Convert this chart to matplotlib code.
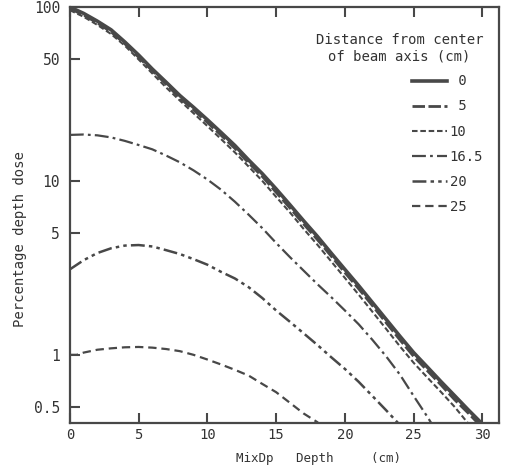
import matplotlib
matplotlib.use("Agg")
import matplotlib.pyplot as plt

# depth (cm) and percentage depth dose
depth_main = [0, 1, 2, 3, 4, 5, 6, 7, 8, 9, 10, 11, 12, 13, 14, 15, 16, 17, 18,
              19, 20, 21, 22, 23, 24, 25, 26, 27, 28, 29, 30]
pdd_0 = [100, 92, 83, 74, 63, 53, 44, 37, 31, 26.5, 22.5, 19, 16, 13.2, 11, 9.0,
         7.3, 5.9, 4.8, 3.85, 3.1, 2.5, 2.0, 1.6, 1.28, 1.03, 0.85, 0.7, 0.58,
         0.48, 0.40]
pdd_5 = [98, 90, 81, 72, 61.5, 51.5, 43, 36, 30, 25.6, 21.7, 18.3, 15.4, 12.7,
         10.6, 8.6, 7.0, 5.65, 4.6, 3.7, 2.97, 2.4, 1.92, 1.53, 1.22, 0.98, 0.81,
         0.67, 0.55, 0.46, 0.38]
pdd_10 = [96, 88, 79, 70, 60, 50, 41.5, 34.5, 29, 24.5, 20.7, 17.4, 14.6, 12.1,
          10, 8.1, 6.6, 5.3, 4.3, 3.45, 2.77, 2.22, 1.77, 1.41, 1.12, 0.9, 0.74,
          0.61, 0.5, 0.40, 0.33]

depth_165 = [0, 1, 2, 3, 4, 5, 6, 7, 8, 9, 10, 11, 12, 13, 14, 15, 16, 17, 18,
             19, 20, 21, 22, 23, 24, 25, 26, 26.5]
pdd_165 = [18.4, 18.5, 18.3, 17.8, 17.0, 16.1, 15.2, 14.0, 12.8, 11.5, 10.2, 8.9,
           7.6, 6.4, 5.35, 4.4, 3.65, 3.05, 2.55, 2.15, 1.8, 1.5, 1.22, 0.98, 0.77,
           0.58, 0.44, 0.38]

depth_20 = [0, 1, 2, 3, 4, 5, 6, 7, 8, 9, 10, 11, 12, 13, 14, 15, 16, 17, 18,
            19, 20, 21, 22, 23, 24]
pdd_20 = [3.1, 3.5, 3.85, 4.1, 4.25, 4.28, 4.2, 4.0, 3.8, 3.55, 3.3, 3.0, 2.75,
          2.45, 2.12, 1.8, 1.55, 1.33, 1.14, 0.97, 0.83, 0.7, 0.58, 0.48, 0.395]

depth_25 = [0, 0.5, 1, 2, 3, 4, 5, 6, 7, 8, 9, 10, 11, 12, 13, 14, 15, 16, 17,
            18, 18.5]
pdd_25 = [1.0, 1.0, 1.03, 1.07, 1.09, 1.105, 1.11, 1.1, 1.08, 1.05, 1.0, 0.94,
          0.88, 0.82, 0.76, 0.68, 0.61, 0.53, 0.46, 0.41, 0.37]

y_ticks = [0.5, 1, 5, 10, 50, 100]
y_tick_labels = ["0.5", "1", "5", "10", "50", "100"]
x_ticks = [0, 5, 10, 15, 20, 25, 30]

plt.rcParams['font.family'] = ['DejaVu Sans Mono']
plt.rcParams['lines.scale_dashes'] = False

ink = '#484848'
txt = '#333333'

fig = plt.figure(figsize=(5.06, 4.72), dpi=100)
ax = fig.add_axes([0.138, 0.104, 0.848, 0.881])

ax.plot(depth_main, pdd_0, color=ink, lw=2.6, ls='-', label=' 0')
ax.plot(depth_main, pdd_5, color=ink, lw=2.0, ls=(0, (9, 2.5)), label=' 5')
ax.plot(depth_main, pdd_10, color=ink, lw=1.5, ls=(0, (4, 2)), label='10')
ax.plot(depth_165, pdd_165, color=ink, lw=1.6, ls=(0, (10, 3, 2, 3)), label='16.5')
ax.plot(depth_20, pdd_20, color=ink, lw=1.8, ls=(0, (10, 3, 2.5, 3, 2.5, 3)), label='20')
ax.plot(depth_25, pdd_25, color=ink, lw=1.6, ls=(0, (6, 3.5)), label='25')

ax.set_yscale('log')
ax.set_ylim(0.406, 100)
ax.set_xlim(0, 31.2)
ax.set_yticks(y_ticks)
ax.set_yticklabels(y_tick_labels)
ax.minorticks_off()
ax.set_xticks(x_ticks)

ax.tick_params(axis='x', direction='in', length=7, width=1.5, color=ink,
               labelsize=10, labelcolor=txt, top=True, pad=4)
ax.tick_params(axis='y', direction='in', length=7, width=1.5, color=ink,
               labelsize=10.5, labelcolor=txt, right=False, pad=7)
for s in ax.spines.values():
    s.set_color(ink)
    s.set_linewidth(1.6)

ax.set_xlabel('MixDp   Depth     (cm)', fontsize=9, color=txt)
ax.xaxis.set_label_coords(0.58, -0.07)
ax.set_ylabel('Percentage depth dose', fontsize=10, color=txt)
ax.yaxis.set_label_coords(-0.1, 0.442)

leg = ax.legend(title='Distance from center\nof beam axis (cm)', loc='upper right',
                bbox_to_anchor=(0.963, 0.9375), frameon=False, fontsize=10,
                title_fontsize=10, handlelength=2.5, handletextpad=0.2,
                labelspacing=0.8, borderpad=0, borderaxespad=0, alignment='right')
leg.get_title().set_multialignment('center')
leg.get_title().set_color(txt)
for t in leg.get_texts():
    t.set_color(txt)

fig.savefig('out.png', dpi=100)
